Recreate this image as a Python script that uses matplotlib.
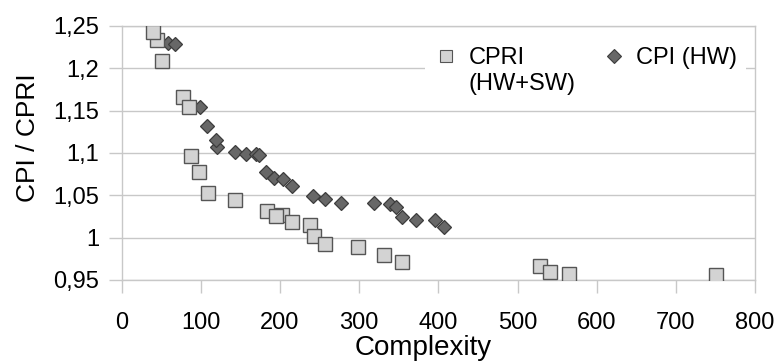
import matplotlib
matplotlib.use("Agg")
import matplotlib.pyplot as plt
from matplotlib.lines import Line2D

plt.rcParams['font.family'] = ['Liberation Sans', 'DejaVu Sans']

# CPRI (HW+SW) - squares
cpri_x = [44, 50.5, 77, 85.4, 88, 97.6, 109, 143.5, 183, 203, 194.4, 214.6,
          238, 242.4, 257, 298.7, 331, 354, 528, 540.8, 565, 750.7, 40]
cpri_y = [1.2335, 1.209, 1.166, 1.154, 1.097, 1.077, 1.053, 1.0445, 1.031, 1.027,
          1.025, 1.018, 1.015, 1.002, 0.993, 0.989, 0.980, 0.971, 0.967, 0.959,
          0.957, 0.956, 1.243]

# CPI (HW) - diamonds
cpi_x = [58.8, 67.3, 98.9, 108, 120, 119, 143, 157, 170, 173, 182, 192.7, 204,
         214.6, 242, 257, 277, 319, 339, 347, 353.5, 371.6, 396, 407]
cpi_y = [1.2295, 1.2287, 1.154, 1.132, 1.1075, 1.115, 1.1015, 1.0985, 1.099,
         1.098, 1.077, 1.070, 1.069, 1.0614, 1.0496, 1.0457, 1.0413, 1.0406,
         1.0398, 1.0366, 1.0248, 1.0209, 1.0209, 1.013]

x_ticks = [0, 100, 200, 300, 400, 500, 600, 700, 800]
y_ticks = [0.95, 1.0, 1.05, 1.1, 1.15, 1.2, 1.25]
y_tick_labels = ['0,95', '1', '1,05', '1,1', '1,15', '1,2', '1,25']

grid_c = '#c8c8c8'
sq_face = '#d3d3d3'
sq_edge = '#555555'
dm_face = '#676767'
dm_edge = '#3c3c3c'

fig = plt.figure(figsize=(7.79, 3.61), dpi=100)
ax = fig.add_axes([0.1562, 0.2244, 0.8130, 0.7036])

ax.plot(cpi_x, cpi_y, linestyle='none', marker='D', markersize=6.8,
        markerfacecolor=dm_face, markeredgecolor=dm_edge, markeredgewidth=0.9,
        zorder=3)
ax.plot(cpri_x, cpri_y, linestyle='none', marker='s', markersize=10,
        markerfacecolor=sq_face, markeredgecolor=sq_edge, markeredgewidth=1.0,
        zorder=4)

ax.set_xlim(0, 800)
ax.set_ylim(0.95, 1.25)
ax.set_xticks(x_ticks)
ax.set_xticklabels([str(v) for v in x_ticks])
ax.set_yticks(y_ticks)
ax.set_yticklabels(y_tick_labels)

ax.yaxis.grid(True, color=grid_c, linewidth=1.0)
ax.set_axisbelow(True)
for s in ax.spines.values():
    s.set_color(grid_c)
    s.set_linewidth(1.0)

ax.tick_params(axis='x', direction='out', length=9.4, width=1.0, color=grid_c,
               labelsize=17, pad=13.5, labelcolor='black')
ax.tick_params(axis='y', direction='out', length=9.4, width=1.0, color=grid_c,
               labelsize=17, pad=7, labelcolor='black')

ax.set_xlabel('Complexity', fontsize=20)
ax.set_ylabel('CPI / CPRI', fontsize=19)
ax.xaxis.set_label_coords(0.476, -0.216)
ax.yaxis.set_label_coords(-0.129, 0.559)

h_sq = Line2D([], [], linestyle='none', marker='s', markersize=8,
              markerfacecolor=sq_face, markeredgecolor=sq_edge, markeredgewidth=0.8)
h_blank = Line2D([], [], linestyle='none')
h_dm = Line2D([], [], linestyle='none', marker='D', markersize=7.2,
              markerfacecolor=dm_face, markeredgecolor=dm_edge, markeredgewidth=0.8)
leg = ax.legend([h_sq, h_blank, h_dm], ['CPRI', '(HW+SW)', 'CPI (HW)'],
                ncol=2, loc='upper left', bbox_to_anchor=(0.479, 0.954),
                fontsize=17, frameon=True, facecolor='white', edgecolor='none',
                framealpha=1.0, fancybox=False, borderpad=0.4,
                handlelength=1.0, handletextpad=0.43, columnspacing=1.14,
                labelspacing=0.18, borderaxespad=0)

fig.savefig('out.png', dpi=100)
